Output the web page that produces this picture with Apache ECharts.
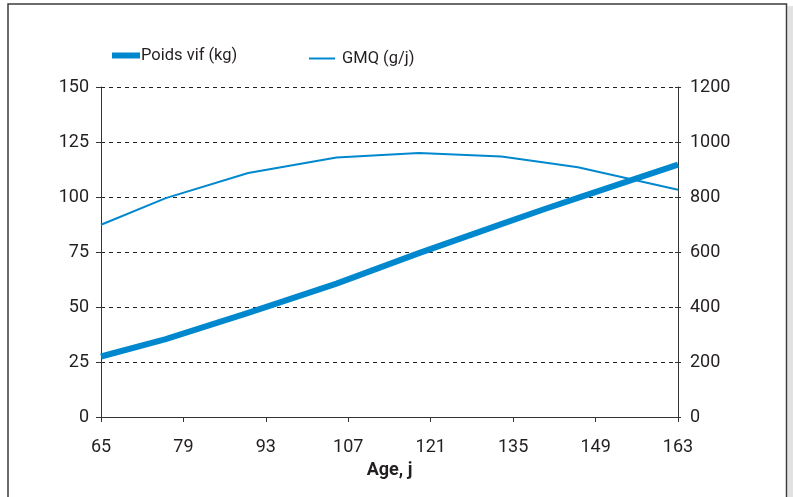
<!DOCTYPE html>
<html>
<head>
<meta charset="utf-8">
<script src="https://cdn.jsdelivr.net/npm/echarts@6/dist/echarts.min.js"></script>
<style>
html,body{margin:0;padding:0;background:#fff;}
#c{width:793px;height:497px;}
</style>
</head>
<body>
<div id="c"></div>
<script>
// ---- data ----
const ages = [65, 76, 90, 105, 119, 133, 140, 146, 163];
const poidsVif = [27.5, 35.4, 47.3, 60.6, 74.5, 87.7, 94.2, 99.6, 114.7];
const gmq = [699, 796, 887, 944, 960, 947, 926, 908, 826];
const xTicks = [65, 79, 93, 107, 121, 135, 149, 163];
const seriesNames = ['Poids vif (kg)', 'GMQ (g/j)'];
const xAxisTitle = 'Age, j';

const textColor = '#231f20';
const lineColor = '#0088ce';
const labelFont = 'Roboto, "Liberation Sans", sans-serif';
const legendFont = 'Roboto, sans-serif';

const chart = echarts.init(document.getElementById('c'), null, {renderer: 'canvas'});

const pairs = (xs, ys) => xs.map((x, i) => [x, ys[i]]);

chart.setOption({
  animation: false,
  backgroundColor: '#fff',
  legend: [
    {
      data: [{name: seriesNames[0], icon: 'rect'}],
      left: 112, top: 47, padding: 0,
      itemWidth: 28, itemHeight: 6,
      textStyle: {color: textColor, fontSize: 16.5, fontFamily: legendFont, padding: [2, 0, 0, -4]},
      selectedMode: false
    },
    {
      data: [{name: seriesNames[1], icon: 'rect'}],
      left: 309, top: 50, padding: 0,
      itemWidth: 26, itemHeight: 2,
      textStyle: {color: textColor, fontSize: 16.5, fontFamily: legendFont, padding: [0, 0, 0, 2]},
      selectedMode: false
    }
  ],
  grid: {left: 101, right: 115, top: 87, height: 330, containLabel: false},
  xAxis: {
    type: 'value', min: 65, max: 163,
    name: xAxisTitle, nameLocation: 'middle', nameGap: 44,
    nameTextStyle: {color: textColor, fontSize: 18, fontWeight: 'bold', fontFamily: labelFont},
    axisLine: {lineStyle: {color: '#333', width: 1}},
    axisTick: {show: true, length: 5, lineStyle: {color: '#333'}, customValues: xTicks},
    axisLabel: {color: textColor, fontSize: 18, fontFamily: labelFont, margin: 21, customValues: xTicks},
    splitLine: {show: false}
  },
  yAxis: [
    {
      type: 'value', min: 0, max: 150, interval: 25, position: 'left',
      axisLine: {show: true, lineStyle: {color: '#333', width: 1}},
      axisTick: {show: true, length: 5, lineStyle: {color: '#333'}},
      axisLabel: {color: textColor, fontSize: 18, fontFamily: labelFont, margin: 12},
      splitLine: {show: true, lineStyle: {color: '#222', type: [4, 4], width: 1}}
    },
    {
      type: 'value', min: 0, max: 1200, interval: 200, position: 'right',
      axisLine: {show: true, lineStyle: {color: '#333', width: 1}},
      axisTick: {show: true, length: 3, lineStyle: {color: '#333'}},
      axisLabel: {color: textColor, fontSize: 18, fontFamily: labelFont, margin: 12,
                  formatter: v => String(v)},
      splitLine: {show: false}
    },
    {
      type: 'value', min: 0, max: 1200, interval: 200, position: 'right',
      axisLine: {show: false},
      axisTick: {show: true, inside: true, length: 3, lineStyle: {color: '#333'}},
      axisLabel: {show: false},
      splitLine: {show: false}
    }
  ],
  series: [
    {
      name: seriesNames[1], type: 'line', yAxisIndex: 1,
      data: pairs(ages, gmq),
      showSymbol: false, symbol: 'none', smooth: false,
      lineStyle: {color: lineColor, width: 2},
      itemStyle: {color: lineColor},
      z: 2
    },
    {
      name: seriesNames[0], type: 'line', yAxisIndex: 0,
      data: pairs(ages, poidsVif),
      showSymbol: false, symbol: 'none', smooth: false,
      lineStyle: {color: lineColor, width: 6, cap: 'butt', join: 'miter'},
      itemStyle: {color: lineColor},
      z: 3
    }
  ],
  graphic: [
    {type: 'rect', shape: {x: 787.5, y: 6, width: 6, height: 500}, style: {fill: '#e2e2e2'}, silent: true},
    {type: 'rect', shape: {x: 8, y: 4, width: 778.5, height: 600}, style: {fill: 'none', stroke: '#3c3c3c', lineWidth: 1.5}, silent: true}
  ]
});
</script>
</body>
</html>
